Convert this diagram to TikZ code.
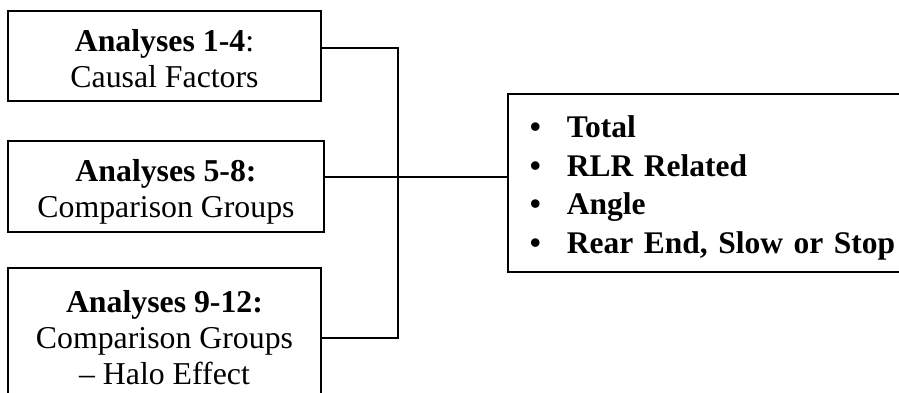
\documentclass[tikz,border=0pt]{standalone}
\usepackage{fontspec}
\setmainfont{Liberation Serif}
\newcommand{\crashitem}[1]{\makebox[12.33pt][l]{\textbullet}#1}
\newcommand{\topgap}[1]{\rule{0pt}{#1}}
\begin{document}
\begin{tikzpicture}[x=1pt,y=1pt,font=\fontsize{10.6}{12}\selectfont,
    box/.style={draw=black, line width=0.8pt, align=center, inner sep=0pt, outer sep=0pt},
    link/.style={draw=black, line width=0.6pt}]
        \useasboundingbox (0,0) rectangle (299.67,-131);
        \node [box, anchor=north west, minimum width=104.33pt, minimum height=30pt] at (2.67,-3.67) (A14) {\topgap{9.2pt}\textbf{Analyses 1-4}:\\Causal Factors};
        \node [box, anchor=north west, minimum width=105.33pt, minimum height=30.33pt] at (2.67,-47) (A58) {\topgap{11pt}\textbf{Analyses 5-8:}\\Comparison Groups};
        \node [box, anchor=north west, minimum width=104.33pt, minimum height=46.3pt] at (2.67,-89.33) (A912) {\textbf{Analyses 9-12:}\\Comparison Groups\\–~Halo Effect};
        \node [box, anchor=north west, align=left, text width=125pt, inner xsep=7.33pt, minimum height=59.33pt, font=\fontsize{10.5}{12.8}\selectfont\bfseries] at (169.33,-31.33) (Crash) {\topgap{10.6pt}\crashitem{Total}\\\crashitem{RLR Related}\\\crashitem{Angle}\\\crashitem{Rear End, Slow or Stop}};
        \coordinate (j1) at (132.67,-16);
        \coordinate (j2) at (132.67,-59);
        \coordinate (j3) at (132.67,-112.67);
        \draw [link] (A14.east |- j1) -- (j1) -- (j3) -- (A912.east |- j3);
        \draw [link] (A58.east |- j2) -- (Crash.west |- j2);
\end{tikzpicture}
\end{document}
